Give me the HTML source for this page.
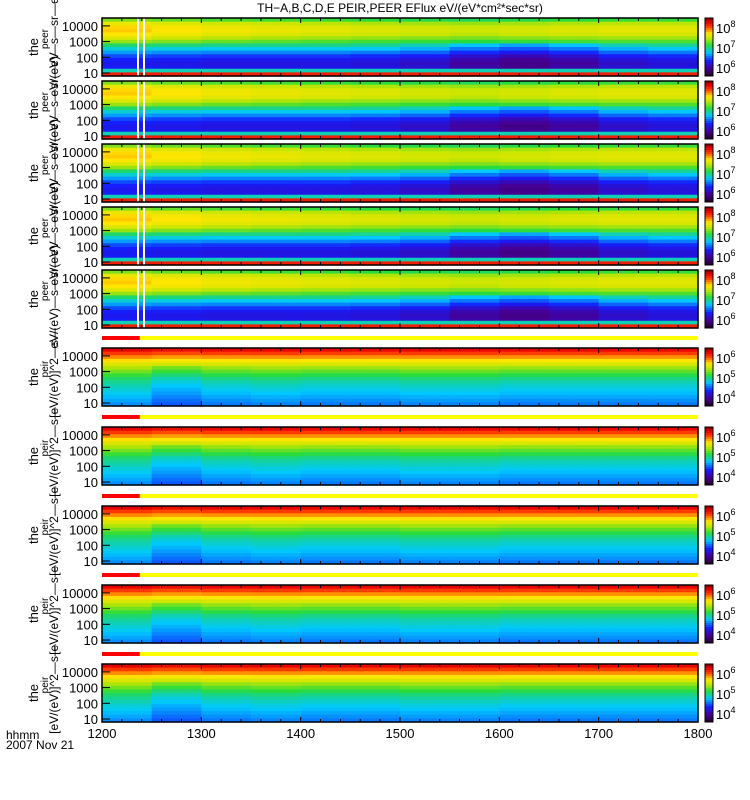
<!DOCTYPE html>
<html><head><meta charset="utf-8">
<style>
body{margin:0;background:#fff;width:750px;height:800px;overflow:hidden;font-family:"Liberation Sans",sans-serif}
svg{display:block}
text{font-family:"Liberation Sans",sans-serif;fill:#000}
</style></head>
<body>
<svg id="chart" width="750" height="800" xmlns="http://www.w3.org/2000/svg">
<text x="400" y="12" font-size="12" text-anchor="middle">TH−A,B,C,D,E PEIR,PEER EFlux eV/(eV*cm²*sec*sr)</text>
<g id="panels"></g>
<text x="6" y="739" font-size="12">hhmm</text>
<text x="6" y="749" font-size="12">2007 Nov 21</text>
</svg>
<script>
// ---- data ----
const timeTicks = [1200,1300,1400,1500,1600,1700,1800];
const energyTicks = [10000,1000,100,10];
// ion energy profile, top row (highest energy) to bottom row
const ionProfile = [0.55,0.66,0.70,0.71,0.69,0.64,0.57,0.50,0.43,0.36,0.29,0.25,0.23,0.24,0.45,0.90];
// ion time modulation per 50-min bin, low-energy rows
const ionLowMod = [0,-0.01,-0.02,-0.02,-0.02,-0.03,-0.05,-0.10,-0.13,-0.10,-0.05,-0.03];
// ion time modulation per 50-min bin, high-energy rows
const ionHighMod = [0.05,0.03,0.01,0,-0.01,-0.02,-0.03,-0.04,-0.03,-0.02,-0.01,-0.01];
// electron energy profile
const eleProfile = [0.93,0.86,0.80,0.74,0.68,0.62,0.57,0.52,0.48,0.45,0.43,0.41,0.39,0.37,0.35,0.33];
const eleMod = [0.02,-0.03,0,0.01,0,0,0.01,0.01,0,0,0,0];
const ionCbar = ["8","7","6"];
const eleCbar = ["6","5","4"];
const panelTops = [18,81,144,207,270,348,427,506,585,664];
const panelKinds = ["ion","ion","ion","ion","ion","ele","ele","ele","ele","ele"];

const X0=102, X1=698, PH=58, T0=1200, T1=1800;
const xs = t => X0 + (t-T0)/(T1-T0)*(X1-X0);
const NS="http://www.w3.org/2000/svg";
const root=document.getElementById('panels');
function mk(tag,attrs,parent){const e=document.createElementNS(NS,tag);for(const k in attrs)e.setAttribute(k,attrs[k]);(parent||root).appendChild(e);return e;}
const stops=[[0,[40,0,50]],[0.12,[70,0,150]],[0.25,[20,30,255]],[0.40,[0,200,255]],[0.53,[40,220,60]],[0.66,[200,230,0]],[0.74,[255,230,0]],[0.86,[255,60,0]],[0.94,[230,0,0]],[1,[150,0,0]]];
function cmap(v){v=Math.max(0,Math.min(1,v));for(let i=1;i<stops.length;i++){if(v<=stops[i][0]){const a=stops[i-1],b=stops[i];const f=(v-a[0])/(b[0]-a[0]);const c=a[1].map((x,j)=>Math.round(x+(b[1][j]-x)*f));return `rgb(${c})`;}}return 'rgb(150,0,0)';}

panelTops.forEach((top,p)=>{
  const kind=panelKinds[p];
  const g=mk('g',{});
  
  
  const prof= kind==='ion'?ionProfile:eleProfile;
  const nT=48, nE=prof.length, cw=(X1-X0)/nT, ch=PH/nE;
  for(let t=0;t<nT;t++){
    const mi=Math.floor(t/4);
    for(let e=0;e<nE;e++){
      let v=prof[e];
      if(kind==='ion'){ v += (e<7?ionHighMod[mi]:(e<14?ionLowMod[mi]:0)); }
      else v += eleMod[mi]*(e>4?1:0.3);
      const r=mk('rect',{x:(X0+t*cw).toFixed(2),y:(top+e*ch).toFixed(2),width:(cw+0.6).toFixed(2),height:(ch+0.6).toFixed(2),fill:cmap(v)},g);
      
      
    }
  }
  if(kind==='ion'){
    [137,143].forEach(x=>mk('rect',{x:x,y:top,width:2,height:PH,fill:'#fff'},g));
  } else {
    const bar=mk('rect',{x:X0,y:top-12,width:X1-X0,height:4,fill:'#ffff00'});
    
    
    mk('rect',{x:X0,y:top-12,width:xs(1238)-X0,height:4,fill:'#ff0000'});
  }
  const fr=mk('rect',{x:X0,y:top,width:X1-X0,height:PH,fill:'none',stroke:'#000','stroke-width':1.5},g);
  
  
  for(let t=T0;t<=T1;t+=20){
    const x=xs(t), L=(t%100===0)?5:3;
    mk('line',{x1:x,x2:x,y1:top+PH,y2:top+PH-L,stroke:'#000'},g);
    mk('line',{x1:x,x2:x,y1:top,y2:top+L,stroke:'#000'},g);
  }
  energyTicks.forEach(E=>{
    const y=top+PH-3-(Math.log10(E)-1)*15.7;
    const tx=mk('text',{x:98,y:y+5,'font-size':13,'text-anchor':'end'},g);
    tx.textContent=E;
    
    
    mk('line',{x1:X0,x2:X0+8,y1:y,y2:y,stroke:'#000'},g);
  });
  const yt=mk('text',{x:0,y:0,'font-size':13,'text-anchor':'middle',transform:`translate(38,${top+PH/2}) rotate(-90)`},g);
  yt.textContent='the';
  
  
  const ys=mk('text',{x:0,y:0,'font-size':10,'text-anchor':'middle',transform:`translate(48,${top+PH/2-8}) rotate(-90)`},g);
  ys.textContent=kind==='ion'?'peer':'peir';
  
  
  const yu=mk('text',{x:0,y:0,'font-size':12,'text-anchor':'middle',transform:`translate(58,${top+PH/2-4}) rotate(-90)`},g);
  yu.textContent=kind==='ion'?'eV/(eV)—s—sr—eV':'[eV/(eV)]^2—s—';
  
  
  const cb=mk('g',{},g);
  
  
  for(let i=0;i<29;i++){
    mk('rect',{x:705,y:top+i*2,width:8,height:2.2,fill:cmap(1-i/28)},cb);
  }
  mk('rect',{x:705,y:top,width:8,height:PH,fill:'none',stroke:'#000'},cb);
  const labs=kind==='ion'?ionCbar:eleCbar;
  labs.forEach((l,i)=>{
    const tx=mk('text',{x:716,y:top+15+i*20,'font-size':13},cb);
    tx.textContent='10';
    const s=mk('tspan',{dy:-6,'font-size':9},tx);
    s.textContent=l;
    
    
  });
});
timeTicks.forEach(t=>{
  const tx=mk('text',{x:xs(t),y:738,'font-size':13,'text-anchor':'middle'});
  tx.textContent=t;
  
  
});
</script>
</body></html>
